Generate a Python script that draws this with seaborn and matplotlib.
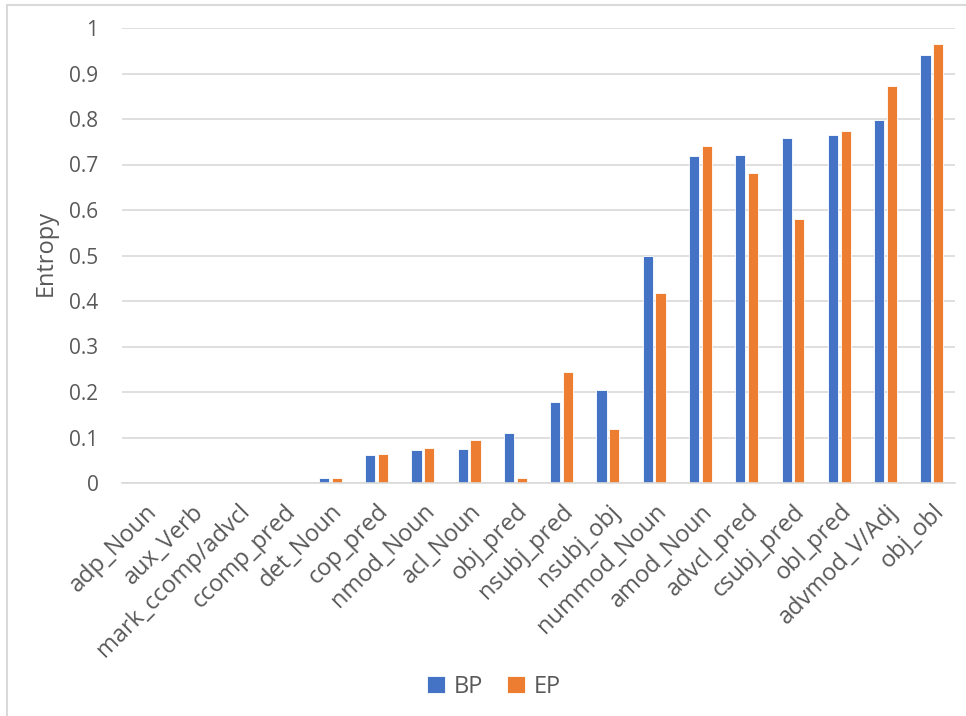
import matplotlib
matplotlib.use("Agg")
import matplotlib.pyplot as plt
from matplotlib.patches import Rectangle
import seaborn as sns
import pandas as pd

categories = ["adp_Noun", "aux_Verb", "mark_ccomp/advcl", "ccomp_pred", "det_Noun",
              "cop_pred", "nmod_Noun", "acl_Noun", "obj_pred", "nsubj_pred",
              "nsubj_obj", "nummod_Noun", "amod_Noun", "advcl_pred", "csubj_pred",
              "obl_pred", "advmod_V/Adj", "obj_obl"]
bp_values = [0.0, 0.0, 0.0, 0.0, 0.010, 0.062, 0.072, 0.075, 0.110, 0.177,
             0.205, 0.499, 0.719, 0.721, 0.758, 0.765, 0.798, 0.941]
ep_values = [0.0, 0.0, 0.0, 0.0, 0.010, 0.064, 0.077, 0.095, 0.010, 0.243,
             0.119, 0.417, 0.741, 0.682, 0.581, 0.774, 0.873, 0.965]
series_names = ["BP", "EP"]
y_ticks = [0, 0.1, 0.2, 0.3, 0.4, 0.5, 0.6, 0.7, 0.8, 0.9, 1]
y_tick_labels = ["0", "0.1", "0.2", "0.3", "0.4", "0.5", "0.6", "0.7", "0.8", "0.9", "1"]

df = pd.DataFrame({
    "relation": categories * 2,
    "series": [series_names[0]] * len(categories) + [series_names[1]] * len(categories),
    "entropy": bp_values + ep_values,
})

sns.set_theme(style="white")
plt.rcParams["font.family"] = ["Open Sans", "DejaVu Sans"]
text_color = "#595959"
grid_color = "#D9D9D9"

fig = plt.figure(figsize=(9.66, 7.16), dpi=100)
ax = fig.add_axes([122 / 966, 1 - 483 / 716, (955 - 122) / 966, (483 - 28) / 716])

sns.barplot(data=df, x="relation", y="entropy", hue="series",
            order=categories, hue_order=series_names,
            palette=["#4472C4", "#ED7D31"], saturation=1, width=0.55, gap=0.2,
            edgecolor="white", linewidth=0.6, ax=ax, legend=True)

ax.set_ylim(0, 1)
ax.set_xlim(-0.5, len(categories) - 0.5)
ax.set_yticks(y_ticks)
ax.set_yticklabels(y_tick_labels)
ax.yaxis.grid(True, color=grid_color, linewidth=1.2)
ax.set_axisbelow(True)
for side in ["left", "right", "top"]:
    ax.spines[side].set_visible(False)
ax.spines["bottom"].set_color(grid_color)
ax.spines["bottom"].set_linewidth(1.2)

ax.tick_params(axis="y", length=0, pad=17, labelsize=15, labelcolor=text_color)
ax.tick_params(axis="x", length=0, pad=12, labelsize=17, labelcolor=text_color)
for lbl in ax.get_xticklabels():
    lbl.set_rotation(45)
    lbl.set_ha("right")
    lbl.set_rotation_mode("anchor")

ax.set_xlabel("")
ax.set_ylabel("Entropy", fontsize=17, color=text_color)
ax.yaxis.set_label_coords(-0.077, 0.505)

handles, labels = ax.get_legend_handles_labels()
ax.legend_.remove()
fig.legend(handles, labels, loc="center", bbox_to_anchor=(494 / 966, 1 - 687 / 716),
           ncol=2, frameon=False, fontsize=17, labelcolor=text_color,
           handlelength=0.75, handleheight=0.75, handletextpad=0.4, columnspacing=1.0)

# chart area border
fig.patches.append(Rectangle((7 / 966, -0.1), 1.2, 1.1 - 5 / 716,
                             transform=fig.transFigure, fill=False,
                             edgecolor="#D9D9D9", linewidth=1.5))

fig.savefig("out.png", dpi=100, facecolor="white")
